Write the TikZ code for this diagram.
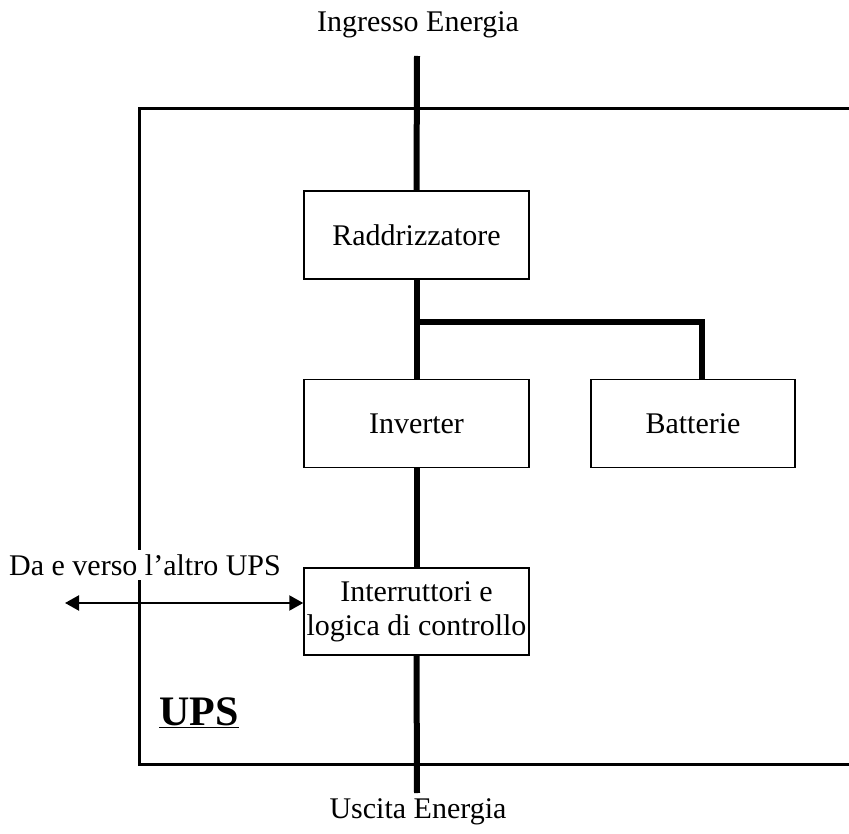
\documentclass[tikz,border=0pt]{standalone}
\usepackage{fontspec}
\setmainfont{Liberation Serif}
\usetikzlibrary{arrows.meta}
\begin{document}
\begin{tikzpicture}[x=1pt,y=-1pt,
  blk/.style={draw,line width=1.5pt,fill=white,minimum width=225pt,minimum height=88pt,inner sep=0pt,align=center,font=\fontsize{30}{34}\selectfont},
  bus/.style={line width=6pt,line cap=butt},
  frame/.style={line width=3pt},
  lbl/.style={font=\fontsize{30}{34}\selectfont,inner sep=0pt}]
\useasboundingbox (0,0) rectangle (849,834);
% outer frame (open on the right)
\draw[frame] (849,109) -- (139,109) -- (139,764) -- (849,764);
% coordinates
\coordinate (in) at (417,56);
\coordinate (out) at (417,793);
\coordinate (j) at (417,322);
\coordinate (bt) at (702,322);
\coordinate (ar) at (65,603);
% boxes
\node[blk] (R) at (416.5,235) {Raddrizzatore};
\node[blk] (I) at (416.5,423.5) {Inverter};
\node[blk,minimum width=204pt] (B) at (693,423.5) {Batterie};
\node[blk,minimum height=87pt] (S) at (416.5,611.5) {Interruttori e\\logica di controllo};
% buses
\draw[bus] (in) -- (R.north);
\draw[bus] (R.south) -- (I.north);
\draw[bus] (I.south) -- (S.north);
\draw[bus] (S.south) -- (out);
\draw[bus,line join=miter] (j) -- (bt) -- (bt |- B.north);
% labels
\node[lbl] (tin) at (418,25) {Ingresso Energia};
\node[lbl] (tout) at (418,812) {Uscita Energia};
\node[lbl,fill=white,inner ysep=4pt,inner xsep=0pt] (tda) at (145,565) {Da e verso l’altro UPS};
\node[font=\fontsize{42}{46}\selectfont\bfseries,inner sep=0pt,anchor=base west] (ups) at (159,725) {\underline{UPS}};
% arrow
\draw[line width=2.2pt,{Triangle[length=14pt,width=15pt]}-{Triangle[length=14pt,width=15pt]}] (ar) -- (ar -| S.west);
\end{tikzpicture}
\end{document}
